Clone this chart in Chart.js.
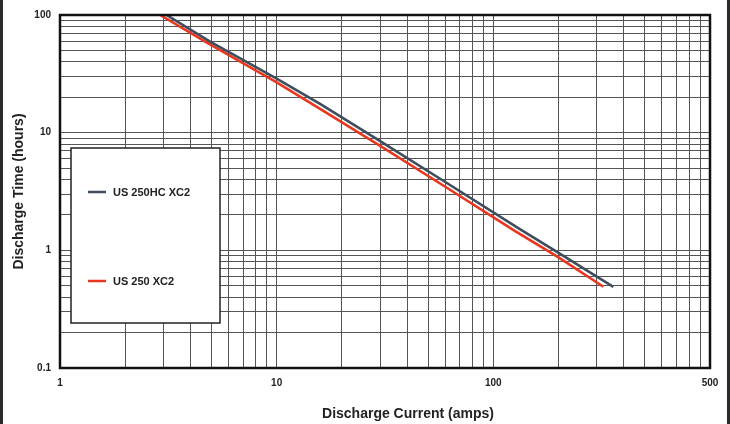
<!DOCTYPE html>
<html>
<head>
<meta charset="utf-8">
<script src="https://cdn.jsdelivr.net/npm/chart.js@4/dist/chart.umd.min.js"></script>
<style>
  html, body { margin: 0; padding: 0; background: #fff; }
  #wrap { width: 730px; height: 424px; position: relative; }
</style>
</head>
<body>
<div id="wrap"><canvas id="curve"></canvas></div>
<script>
// Discharge curves (log-log)
const seriesNames = ['US 250HC XC2', 'US 250 XC2'];
const seriesColors = ['#3f4d5c', '#e8361f'];

const hcCurrent = [3.1, 4.95, 10, 16, 30.3, 60, 132, 200, 358];
const hcHours   = [100, 59, 28.8, 17.4, 8.4, 3.81, 1.52, 0.95, 0.49];

const stdCurrent = [2.9, 4.7, 10, 16, 30.3, 60, 125, 200, 322];
const stdHours   = [100, 59, 26.7, 15.8, 7.66, 3.47, 1.47, 0.87, 0.49];

// labelled ticks (the original labels the 1000 gridline "500")
const xTickValues = [1, 10, 100, 1000];
const xTickLabels = ['1', '10', '100', '500'];
const yTickValues = [0.1, 1, 10, 100];
const yTickLabels = ['0.1', '1', '10', '100'];

const xTitle = 'Discharge Current (amps)';
const yTitle = 'Discharge Time (hours)';

const toPoints = (xs, ys) => xs.map((x, i) => ({ x: x, y: ys[i] }));

// every 1..9 multiple in the range gets a gridline
function logGrid(min, max) {
    const out = [];
    for (let d = min; d < max; d *= 10) {
        for (let m = 1; m < 10; m++) out.push({ value: +(d * m).toPrecision(3) });
    }
    out.push({ value: max });
    return out;
}

const font = 'Liberation Sans, Arial, sans-serif';

const framePlugin = {
    id: 'frame',
    beforeDraw(chart) {
        const c = chart.ctx;
        c.save();
        c.fillStyle = '#fff';
        c.fillRect(0, 0, chart.width, chart.height);
        c.fillStyle = '#2a2a2a';
        c.fillRect(0, 0, 3, chart.height);
        c.fillRect(chart.width - 3, 0, 3, chart.height);
        c.restore();
    },
    afterDraw(chart) {
        const c = chart.ctx;
        const a = chart.chartArea;
        c.save();
        // heavy plot border
        c.strokeStyle = '#111';
        c.lineWidth = 2.5;
        c.strokeRect(a.left, a.top, a.right - a.left, a.bottom - a.top);

        // x title sits a little right of the plot centre in the original
        c.fillStyle = '#222';
        c.font = 'bold 14px ' + font;
        c.textAlign = 'center';
        c.textBaseline = 'middle';
        c.fillText(xTitle, 408, 414);

        // legend box
        c.fillStyle = '#fff';
        c.fillRect(71, 148, 149, 175);
        c.strokeStyle = '#222';
        c.lineWidth = 1.5;
        c.strokeRect(71, 148, 149, 175);

        const rows = [192, 281];
        c.font = 'bold 11px ' + font;
        c.textAlign = 'left';
        rows.forEach((y, i) => {
            c.strokeStyle = seriesColors[i];
            c.lineWidth = 2.5;
            c.beginPath();
            c.moveTo(88, y);
            c.lineTo(106, y);
            c.stroke();
            c.fillStyle = '#222';
            c.fillText(seriesNames[i], 113, y + 1);
        });
        c.restore();
    }
};

const ctx = document.getElementById('curve').getContext('2d');

new Chart(ctx, {
    type: 'line',
    data: {
        datasets: [
            {
                label: seriesNames[0],
                data: toPoints(hcCurrent, hcHours),
                borderColor: seriesColors[0],
                borderWidth: 2.6,
                pointRadius: 0,
                tension: 0
            },
            {
                label: seriesNames[1],
                data: toPoints(stdCurrent, stdHours),
                borderColor: seriesColors[1],
                borderWidth: 2.6,
                pointRadius: 0,
                tension: 0
            }
        ]
    },
    options: {
        responsive: true,
        maintainAspectRatio: false,
        animation: false,
        devicePixelRatio: 1,
        layout: { padding: { left: 0, top: 13, right: 20, bottom: 0 } },
        plugins: {
            legend: { display: false },
            tooltip: { enabled: false }
        },
        scales: {
            x: {
                type: 'logarithmic',
                min: 1,
                max: 1000,
                afterBuildTicks: s => { s.ticks = logGrid(1, 1000); },
                afterFit: s => { s.height = 56; },
                grid: { color: '#555', lineWidth: 1, drawTicks: false },
                border: { display: false },
                ticks: {
                    autoSkip: false,
                    maxRotation: 0,
                    padding: 9,
                    color: '#222',
                    font: { family: font, size: 10, weight: 'bold' },
                    callback: v => {
                        const i = xTickValues.indexOf(v);
                        return i >= 0 ? xTickLabels[i] : '';
                    }
                },
                title: { display: false }
            },
            y: {
                type: 'logarithmic',
                min: 0.1,
                max: 100,
                afterBuildTicks: s => { s.ticks = logGrid(0.1, 100); },
                afterFit: s => { s.width = 60; },
                grid: { color: '#555', lineWidth: 1, drawTicks: false },
                border: { display: false },
                ticks: {
                    autoSkip: false,
                    padding: 9,
                    color: '#222',
                    font: { family: font, size: 10, weight: 'bold' },
                    callback: v => {
                        const i = yTickValues.indexOf(v);
                        return i >= 0 ? yTickLabels[i] : '';
                    }
                },
                title: {
                    display: true,
                    text: yTitle,
                    color: '#222',
                    font: { family: font, size: 14, weight: 'bold' },
                    padding: { top: 11, bottom: 0 }
                }
            }
        }
    },
    plugins: [framePlugin]
});
</script>
</body>
</html>
